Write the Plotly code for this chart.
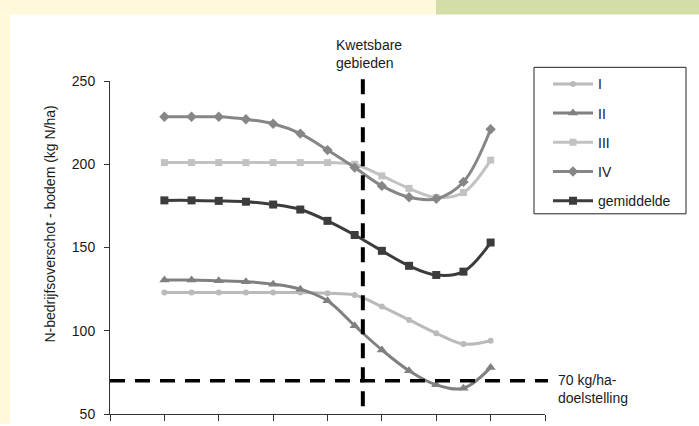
import plotly.graph_objects as go

# Positions along the (unlabelled) horizontal axis
stappen = [1, 1.5, 2, 2.5, 3, 3.5, 4, 4.5, 5, 5.5, 6, 6.5, 7]

# N-surplus (kg N/ha) per region
reeks_I = [123, 123, 123, 123, 123, 123, 122.5, 121.5, 114.5, 106.5, 98.5, 92, 94]
reeks_II = [130.5, 130.5, 130, 129.5, 128, 125, 118, 103, 88.5, 76, 67.5, 65.5, 78]
reeks_III = [201, 201, 201, 201, 201, 201, 201, 200, 193, 185.5, 180, 183, 202.5]
reeks_IV = [228.5, 228.5, 228.5, 227, 224.3, 218.4, 208.5, 198, 187, 180.2, 179.3, 189.4, 221]
gemiddelde = [178.3, 178.3, 178, 177.5, 175.8, 172.8, 166, 157.5, 148, 139, 133.5, 135.5, 153]

y_ticks = [50, 100, 150, 200, 250]
kwetsbaar_x = 4.65
doel = 70

FONT = "Liberation Sans, Arial, sans-serif"
TXT = "#1a1a1a"

# plot-area pixel geometry
L, R, T, B = 110, 545, 81, 422
W, H = 699, 426
XMIN, XMAX = 0, 8
YMIN, YMAX = 50, 250


def px_x(px):
    return (px - L) / (R - L)


def px_y(py):
    return (B - py) / (B - T)


series = [
    ("I", reeks_I, "#bababa", "circle", 6),
    ("II", reeks_II, "#808080", "triangle-up", 9),
    ("III", reeks_III, "#c2c2c2", "square", 7),
    ("IV", reeks_IV, "#868686", "diamond", 8),
    ("gemiddelde", gemiddelde, "#3c3c3c", "square", 8),
]

fig = go.Figure()
for naam, waarden, kleur, symbool, grootte in series:
    fig.add_trace(go.Scatter(
        x=stappen, y=waarden, name=naam, legendgroup=naam,
        mode="lines+markers",
        line=dict(color=kleur, width=3, shape="spline", smoothing=1),
        marker=dict(color=kleur, symbol=symbool, size=grootte),
        hoverinfo="skip",
    ))

shapes = [
    # frame bands around the chart
    dict(type="rect", xref="paper", yref="paper", layer="below",
         x0=px_x(-5), x1=px_x(436), y0=px_y(13), y1=px_y(-5),
         fillcolor="#fff9dc", line_width=0),
    dict(type="rect", xref="paper", yref="paper", layer="below",
         x0=px_x(436), x1=px_x(705), y0=px_y(13), y1=px_y(-5),
         fillcolor="#d2dea8", line_width=0),
    dict(type="rect", xref="paper", yref="paper", layer="below",
         x0=px_x(-5), x1=px_x(10), y0=px_y(432), y1=px_y(13),
         fillcolor="#fff9dc", line_width=0),
    # legend frame
    dict(type="rect", xref="paper", yref="paper", layer="above",
         x0=px_x(534), x1=px_x(686), y0=px_y(217), y1=px_y(67),
         fillcolor="rgba(0,0,0,0)", line=dict(color="#222222", width=1)),
    # 70 kg/ha target line
    dict(type="line", xref="paper", yref="y", layer="above",
         x0=0, x1=px_x(548), y0=doel, y1=doel,
         line=dict(color="#000000", width=3.5, dash="15px,10px")),
    # vulnerable areas marker
    dict(type="line", xref="paper", yref="paper", layer="above",
         x0=(kwetsbaar_x - XMIN) / (XMAX - XMIN), x1=(kwetsbaar_x - XMIN) / (XMAX - XMIN),
         y0=px_y(414), y1=px_y(78),
         line=dict(color="#000000", width=4, dash="15px,9px")),
]

annotations = [
    dict(text="Kwetsbare<br>gebieden", xref="paper", yref="paper",
         x=px_x(334), y=px_y(53), xanchor="left", yanchor="middle", align="left",
         showarrow=False, font=dict(family=FONT, size=14, color=TXT)),
    dict(text="70 kg/ha-<br>doelstelling", xref="paper", yref="paper",
         x=px_x(556), y=px_y(396), xanchor="left", yanchor="middle", align="left",
         showarrow=False, font=dict(family=FONT, size=14, color=TXT)),
    dict(text="N-bedrijfsoverschot - bodem (kg N/ha)", xref="paper", yref="paper",
         x=px_x(50), y=px_y(228), xanchor="center", yanchor="middle", textangle=-90,
         showarrow=False, font=dict(family=FONT, size=14, color=TXT)),
]

fig.update_layout(
    width=W, height=H,
    margin=dict(l=L, r=W - R, t=T, b=H - B),
    paper_bgcolor="#ffffff", plot_bgcolor="#ffffff",
    font=dict(family=FONT, size=14, color=TXT),
    shapes=shapes, annotations=annotations,
    showlegend=True,
    legend=dict(x=px_x(548), y=px_y(68), xanchor="left", yanchor="top",
                bgcolor="rgba(0,0,0,0)", borderwidth=0, tracegroupgap=8,
                itemwidth=40,
                font=dict(family=FONT, size=14, color=TXT)),
    xaxis=dict(range=[XMIN, XMAX], tickvals=list(range(XMIN, XMAX + 1)), showticklabels=False,
               showgrid=False, zeroline=False, showline=True, linecolor="#333333", linewidth=1,
               ticks="outside", ticklen=6, tickcolor="#333333"),
    yaxis=dict(range=[YMIN, YMAX], tickvals=y_ticks, showgrid=False, zeroline=False,
               showline=True, linecolor="#333333", linewidth=1,
               ticks="outside", ticklen=5, tickcolor="#333333", ticklabelstandoff=6,
               tickfont=dict(family=FONT, size=14, color=TXT)),
)

fig.write_html("out.html")
